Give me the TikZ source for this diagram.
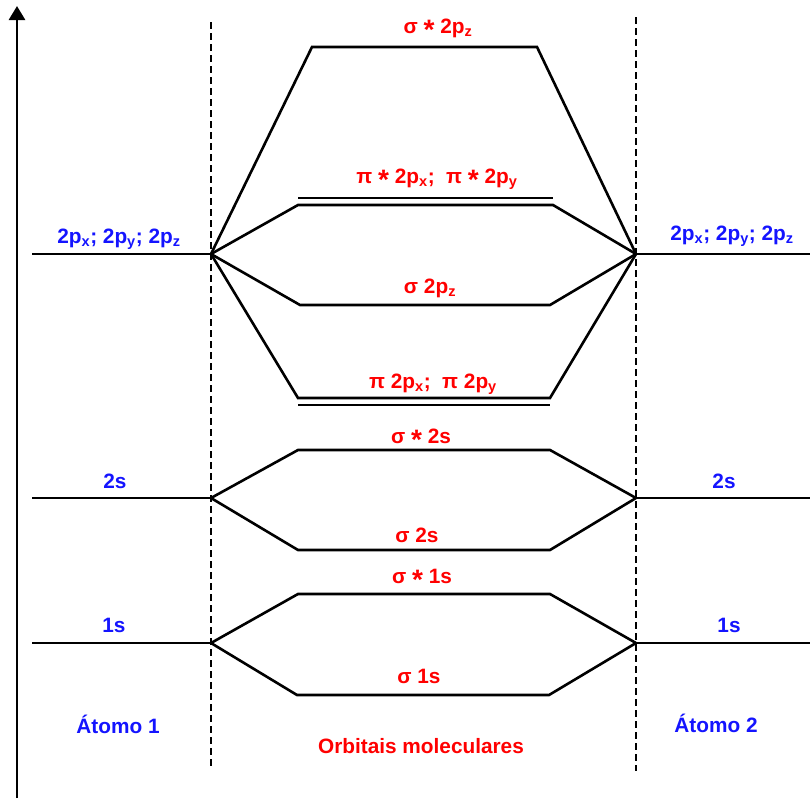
\documentclass[tikz,border=0pt]{standalone}
\usepackage{fontspec}
\setmainfont{Liberation Sans}
\usetikzlibrary{arrows.meta}
\definecolor{aoblue}{RGB}{20,20,255}
\definecolor{mored}{RGB}{255,0,0}
\newcommand{\ostar}{\raisebox{-.55ex}{\scalebox{1.35}{*}}}

\begin{document}
\begin{tikzpicture}[x=1pt, y=-1pt, line width=2.6pt,
  font=\fontsize{20.8}{24}\selectfont\bfseries,
  aolbl/.style={text=aoblue, anchor=base, inner sep=0pt},
  molbl/.style={text=mored, anchor=base, inner sep=0pt},
  divider/.style={dash pattern=on 7pt off 4pt}]
  \useasboundingbox (0,0) rectangle (810,798);

  % energy axis and atom dividers
  \coordinate (ax-b) at (17,798);
  \coordinate (ax-t) at (17,6);
  \draw[-{Triangle[length=14pt,width=16pt]}] (ax-b) -- (ax-t);
  \coordinate (d1-t) at (211,22);  \coordinate (d1-b) at (211,768);
  \coordinate (d2-t) at (636,17);  \coordinate (d2-b) at (636,771);
  \draw[divider] (d1-t) -- (d1-b);
  \draw[divider] (d2-t) -- (d2-b);

  % atomic levels
  \foreach \ao/\y in {2p/254, 2s/498, 1s/643} {
    \coordinate (a1-\ao) at (211,\y);
    \coordinate (a1-\ao-e) at (32,\y);
    \coordinate (a2-\ao) at (636,\y);
    \coordinate (a2-\ao-e) at (810,\y);
    \draw (a1-\ao-e) -- (a1-\ao);
    \draw (a2-\ao) -- (a2-\ao-e);
  }

  % molecular levels
  \foreach \m/\y/\xl/\xr/\ao in {ssz/47/312/537/2p, spx/205/298/553/2p,
      sz/305/300/550/2p, px/398/298/550/2p, ss2/450/298/550/2s,
      s2/550/298/550/2s, ss1/594/298/550/1s, s1/695/297/549/1s} {
    \coordinate (\m-l) at (\xl,\y);
    \coordinate (\m-r) at (\xr,\y);
    \draw (a1-\ao) -- (\m-l) -- (\m-r) -- (a2-\ao);
  }
  \draw ([yshift=7pt]spx-l) -- ([yshift=7pt]spx-r);
  \draw ([yshift=-7pt]px-l) -- ([yshift=-7pt]px-r);

  % labels
  \node[aolbl] (t1-2p) at (119,243) {2p\textsubscript{x}; 2p\textsubscript{y}; 2p\textsubscript{z}};
  \node[aolbl] (t2-2p) at (732,240) {2p\textsubscript{x}; 2p\textsubscript{y}; 2p\textsubscript{z}};
  \node[aolbl] (t1-2s) at (115,488) {2s};
  \node[aolbl] (t2-2s) at (724,488) {2s};
  \node[aolbl] (t1-1s) at (114,632) {1s};
  \node[aolbl] (t2-1s) at (729,632) {1s};
  \node[aolbl] (atom1) at (118,733) {Átomo 1};
  \node[aolbl] (atom2) at (716,732) {Átomo 2};

  \node[molbl] (t-ssz) at (438,33) {σ \ostar{} 2p\textsubscript{z}};
  \node[molbl] (t-spx) at (437,183) {π \ostar{} 2p\textsubscript{x};\ \ π \ostar{} 2p\textsubscript{y}};
  \node[molbl] (t-sz) at (430,293) {σ 2p\textsubscript{z}};
  \node[molbl] (t-px) at (433,388) {π 2p\textsubscript{x};\ \ π 2p\textsubscript{y}};
  \node[molbl] (t-ss2) at (421,443) {σ \ostar{} 2s};
  \node[molbl] (t-s2) at (417,542) {σ 2s};
  \node[molbl] (t-ss1) at (422,583) {σ \ostar{} 1s};
  \node[molbl] (t-s1) at (419,683) {σ 1s};
  \node[molbl] (title) at (421,753) {Orbitais moleculares};
\end{tikzpicture}
\end{document}
